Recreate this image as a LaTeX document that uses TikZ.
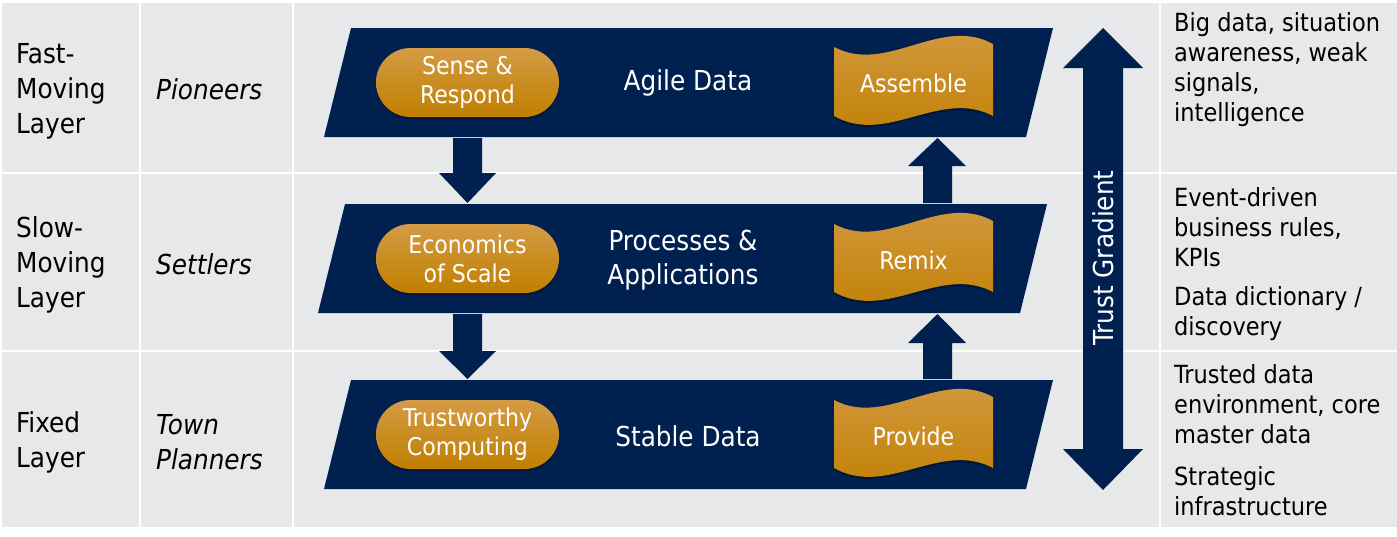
\documentclass[tikz,border=0pt]{standalone}
\usepackage{fontspec}
\setmainfont{DejaVu Sans Condensed}
\usetikzlibrary{shadows}
\definecolor{navyc}{HTML}{002050}
\definecolor{cellgray}{HTML}{E7E8EA}
\definecolor{orgtop}{HTML}{D49B45}
\definecolor{orgmid}{HTML}{D28E0C}
\definecolor{orgbot}{HTML}{C07F00}
\tikzset{
  navyshape/.style={fill=navyc},
  orangefill/.style={top color=orgtop, middle color=orgmid, bottom color=orgbot,
    drop shadow={shadow xshift=0pt, shadow yshift=-2pt, opacity=0.3, fill=black}},
  pill/.style={orangefill, minimum width=183pt, minimum height=69pt, rounded corners=34.5pt,
    inner sep=0pt, align=center, text=white, font=\fontsize{24.5}{29}\selectfont},
  wavelabel/.style={text=white, inner sep=0pt, font=\fontsize{24.5}{29}\selectfont},
  layertext/.style={text=white, align=center, inner sep=0pt, font=\fontsize{27.5}{34}\selectfont},
  coltext/.style={anchor=west, align=left, inner sep=0pt, text=black, font=\fontsize{27.5}{35}\selectfont},
  roletext/.style={anchor=west, align=left, inner sep=0pt, text=black, font=\fontsize{27.5}{35}\selectfont\itshape},
  notetext/.style={anchor=west, align=left, inner sep=0pt, text=black, font=\fontsize{25}{30}\selectfont},
  gridline/.style={white, line width=2.2pt},
}
\begin{document}
\begin{tikzpicture}[x=1pt,y=-1pt]
\useasboundingbox (0,0) rectangle (1397,536);
\fill[white] (0,0) rectangle (1397,536);
% table background
\fill[cellgray] (2,3) rectangle (1397,527);
\draw[gridline] (140,3) -- (140,527);
\draw[gridline] (293,3) -- (293,527);
\draw[gridline] (1160,3) -- (1160,527);
\draw[gridline] (2,173) -- (1397,173);
\draw[gridline] (2,351) -- (1397,351);

% left columns
\node[coltext] (fast) at (16,91) {Fast-\\Moving\\Layer};
\node[coltext] (slow) at (16,265) {Slow-\\Moving\\Layer};
\node[coltext] (fixed) at (16,442) {Fixed\\Layer};
\node[roletext] (pioneers) at (156,89) {Pioneers};
\node[roletext] (settlers) at (156,264) {Settlers};
\node[roletext] (town) at (156,442) {Town\\Planners};

% layers (parallelograms)
\fill[navyshape] (351,28) -- (1053,28) -- (1026,137) -- (324,137) -- cycle;
\fill[navyshape] (345,204) -- (1047,204) -- (1020,313) -- (318,313) -- cycle;
\fill[navyshape] (351,380) -- (1053,380) -- (1026,489) -- (324,489) -- cycle;

% block arrows
\fill[navyshape] (453,138) -- (482,138) -- (482,173) -- (496,173) -- (467.5,203) -- (439,173) -- (453,173) -- cycle;
\fill[navyshape] (453,314) -- (482,314) -- (482,351) -- (496,351) -- (467.5,379) -- (439,351) -- (453,351) -- cycle;
\fill[navyshape] (923,203) -- (952,203) -- (952,166) -- (966,166) -- (937.5,138) -- (908,166) -- (923,166) -- cycle;
\fill[navyshape] (923,379) -- (952,379) -- (952,343) -- (966,343) -- (937.5,314) -- (908,343) -- (923,343) -- cycle;
% trust gradient
\fill[navyshape] (1083,68) -- (1063,68) -- (1103,28) -- (1143,68) -- (1123,68) -- (1123,449) -- (1143,449) -- (1103,490) -- (1063,449) -- (1083,449) -- cycle;
\node[layertext, rotate=90] (trust) at (1103,258) {Trust Gradient};

% layer titles
\node[layertext] (agile) at (688,83) {Agile Data};
\node[layertext] (procs) at (683,260) {Processes \&\\Applications};
\node[layertext] (stable) at (688,436) {Stable Data};

% pills
\node[pill] (sense) at (467.5,82.5) {Sense \&\\Respond};
\node[pill] (econ) at (467.5,258.5) {Economics\\of Scale};
\node[pill] (trustw) at (467.5,434.5) {Trustworthy\\Computing};

% waves
\path[orangefill] (834,47) .. controls (887,75) and (940,15) .. (993,44) -- (993,116) .. controls (940,88) and (887,146) .. (834,116) -- cycle;
\node[wavelabel] (assemble) at (913.5,83) {Assemble};
\path[orangefill] (834,224) .. controls (887,252) and (940,192) .. (993,221) -- (993,292) .. controls (940,264) and (887,322) .. (834,292) -- cycle;
\node[wavelabel] (remix) at (913.5,260) {Remix};
\path[orangefill] (834,400) .. controls (887,428) and (940,368) .. (993,397) -- (993,468) .. controls (940,440) and (887,498) .. (834,468) -- cycle;
\node[wavelabel] (provide) at (913.5,436) {Provide};

% right column notes
\node[notetext] (bigdata) at (1174,70) {Big data, situation\\awareness, weak\\signals,\\intelligence};
\node[notetext] (event) at (1174,227) {Event-driven\\business rules,\\KPIs};
\node[notetext] (dict) at (1174,314) {Data dictionary /\\discovery};
\node[notetext] (trusted) at (1174,404) {Trusted data\\environment, core\\master data};
\node[notetext] (strat) at (1174,491) {Strategic\\infrastructure};
\end{tikzpicture}
\end{document}
